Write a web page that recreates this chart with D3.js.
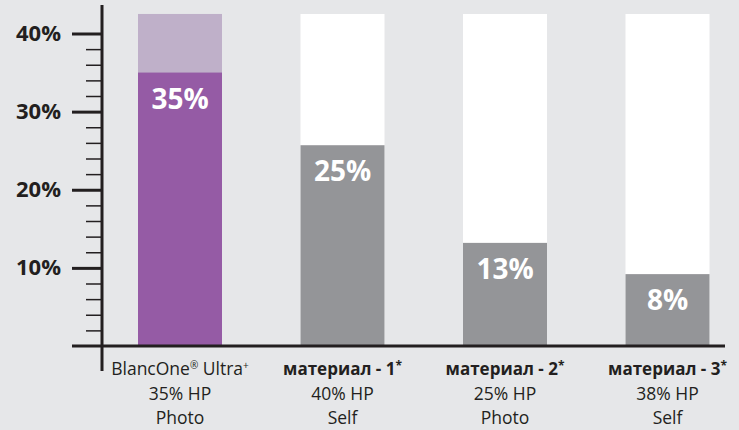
<!DOCTYPE html>
<html>
<head>
<meta charset="utf-8">
<script src="https://cdn.jsdelivr.net/npm/d3@7"></script>
<style>
  html, body { margin: 0; padding: 0; background: #e6e7e9; }
  svg { display: block; font-family: "Open Sans", sans-serif; }
</style>
</head>
<body>
<script>
// data
const categories = ["BlancOne", "материал - 1", "материал - 2", "материал - 3"];
const values = [35, 25.7, 13.2, 9.2];        // bar heights, %
const valueLabels = ["35%", "25%", "13%", "8%"];
const line2 = ["35% HP", "40% HP", "25% HP", "38% HP"];
const line3 = ["Photo", "Self", "Photo", "Self"];
const backMax = 42.5;                          // height of the pale background column
const majorTicks = [10, 20, 30, 40];
const minorTicks = d3.range(2, 40, 2).filter(d => d % 10 !== 0);

const width = 739, height = 430;
const ink = "#231f20";

const svg = d3.select("body").append("svg")
    .attr("width", width)
    .attr("height", height)
    .attr("viewBox", [0, 0, width, height]);

const y = d3.scaleLinear([0, 40], [346, 33.5]);
const x = d3.scalePoint(categories, [180, 667.5]);
const barW = 84;

// background columns
svg.append("g")
  .selectAll("rect")
  .data(categories)
  .join("rect")
    .attr("x", d => x(d) - barW / 2)
    .attr("y", y(backMax))
    .attr("width", barW)
    .attr("height", y(0) - y(backMax))
    .attr("fill", (d, i) => i === 0 ? "#bfb0c9" : "#ffffff");

// value bars
svg.append("g")
  .selectAll("rect")
  .data(categories)
  .join("rect")
    .attr("x", d => x(d) - barW / 2)
    .attr("y", (d, i) => y(values[i]))
    .attr("width", barW)
    .attr("height", (d, i) => y(0) - y(values[i]))
    .attr("fill", (d, i) => i === 0 ? "#955ba5" : "#949598");

// value labels inside bars
svg.append("g")
  .selectAll("text")
  .data(categories)
  .join("text")
    .attr("x", d => x(d))
    .attr("y", (d, i) => y(values[i]) + 36)
    .attr("text-anchor", "middle")
    .attr("fill", "#fff")
    .attr("font-weight", 700)
    .attr("font-size", 28)
    .text((d, i) => valueLabels[i]);

// minor ticks
svg.append("g")
    .attr("transform", "translate(102,0)")
    .call(d3.axisLeft(y).tickValues(minorTicks).tickSize(16).tickFormat(""))
    .call(g => g.select(".domain").remove())
    .call(g => g.selectAll(".tick line").attr("stroke", ink).attr("stroke-width", 1.5));

// major ticks + labels
svg.append("g")
    .attr("transform", "translate(102,0)")
    .call(d3.axisLeft(y).tickValues(majorTicks).tickSize(30).tickPadding(11).tickFormat(d => d + "%"))
    .call(g => g.select(".domain").remove())
    .call(g => g.selectAll(".tick line").attr("stroke", ink).attr("stroke-width", 3))
    .call(g => g.selectAll(".tick text")
        .attr("fill", ink)
        .attr("font-family", "Open Sans, sans-serif")
        .attr("font-weight", 700)
        .attr("font-size", 22));

// axis lines
svg.append("line")
    .attr("x1", 102).attr("x2", 102)
    .attr("y1", 5).attr("y2", 371)
    .attr("stroke", ink).attr("stroke-width", 3);
svg.append("line")
    .attr("x1", 72).attr("x2", 725)
    .attr("y1", y(0)).attr("y2", y(0))
    .attr("stroke", ink).attr("stroke-width", 3);

// category labels
const cat = svg.append("g")
  .selectAll("g")
  .data(categories)
  .join("g")
    .attr("transform", d => `translate(${x(d)},0)`)
    .attr("text-anchor", "middle")
    .attr("fill", ink)
    .attr("font-size", 17.5);

cat.append("text")
    .attr("y", 375)
    .attr("font-weight", (d, i) => i === 0 ? 400 : 700)
    .attr("font-size", (d, i) => i === 0 ? 17.5 : 17)
    .each(function (d, i) {
      const t = d3.select(this);
      if (i === 0) {
        t.append("tspan").text("BlancOne");
        t.append("tspan").attr("font-size", 10).attr("dy", -6).text("®");
        t.append("tspan").attr("dy", 6).text(" Ultra");
        t.append("tspan").attr("font-size", 10).attr("dy", -6).text("+");
      } else {
        t.append("tspan").text(d);
        t.append("tspan").attr("font-size", 12).attr("dy", -5).text("*");
      }
    });

cat.append("text")
    .attr("y", 400)
    .text((d, i) => line2[i]);

cat.append("text")
    .attr("y", 424)
    .text((d, i) => line3[i]);
</script>
</body>
</html>
